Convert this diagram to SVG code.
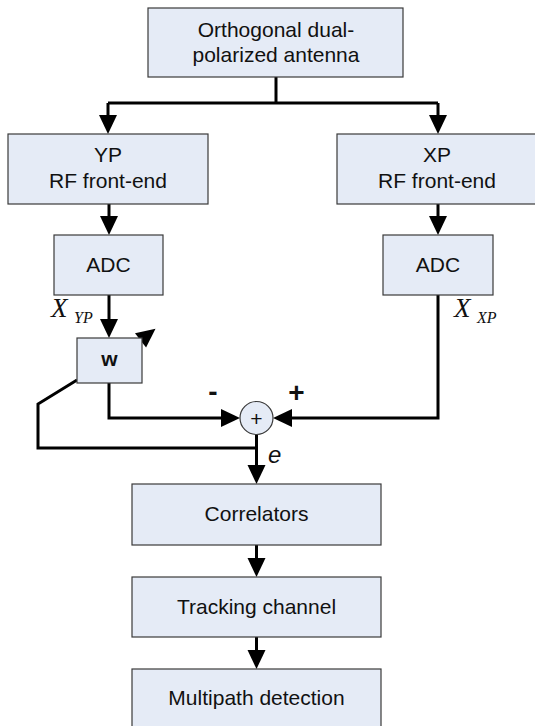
<svg xmlns="http://www.w3.org/2000/svg" width="535" height="726" viewBox="0 0 535 726">
<style>
.box{fill:#e5ebf6;stroke:#3a3a3a;stroke-width:1.2}
.t{font-family:"Liberation Sans",Arial,sans-serif;font-size:21px;fill:#111;text-anchor:middle}
.m{font-family:"Liberation Serif","Times New Roman",serif;font-style:italic;fill:#111}
.c{fill:none;stroke:#000;stroke-width:3;stroke-linejoin:miter}
.s{font-family:"Liberation Sans",Arial,sans-serif;font-weight:bold;font-size:28px;fill:#111;text-anchor:middle}
</style>
<defs>
<marker id="ah" markerUnits="userSpaceOnUse" markerWidth="20" markerHeight="20" refX="12" refY="9" orient="auto" viewBox="0 0 20 20" overflow="visible">
<path d="M0,0 L19,9 L0,18 Z" fill="#000"/>
</marker>
</defs>
<rect width="535" height="726" fill="#fff"/>

<g id="connectors">
<path class="c" d="M276,77 V103"/>
<path class="c" d="M108,103 H438"/>
<path class="c" d="M108,103 V127" marker-end="url(#ah)"/>
<path class="c" d="M438,103 V127" marker-end="url(#ah)"/>
<path class="c" d="M109,204 V228" marker-end="url(#ah)"/>
<path class="c" d="M438,204 V228" marker-end="url(#ah)"/>
<path class="c" d="M109,295 V331" marker-end="url(#ah)"/>
<path class="c" d="M109,383 V418 H233" marker-end="url(#ah)"/>
<path class="c" d="M438,295 V418 H280" marker-end="url(#ah)"/>
<path class="c" d="M256.5,434.5 V477" marker-end="url(#ah)"/>
<path class="c" d="M256.5,448 H38 V404 L77,380"/>
<path class="c" d="M141,340 L150,333" marker-end="url(#ah)"/>
<path class="c" d="M256.5,545 V570" marker-end="url(#ah)"/>
<path class="c" d="M256.5,637 V662" marker-end="url(#ah)"/>
</g>

<g id="antenna">
<rect class="box" x="148" y="8" width="255" height="69"/>
<text class="t" x="276" y="37">Orthogonal dual-</text>
<text class="t" x="276" y="62">polarized antenna</text>
</g>

<g id="yp-rf">
<rect class="box" x="8" y="134" width="200" height="70"/>
<text class="t" x="108" y="162">YP</text>
<text class="t" x="108" y="188">RF front-end</text>
</g>

<g id="xp-rf">
<rect class="box" x="337" y="134" width="200" height="70"/>
<text class="t" x="437" y="162">XP</text>
<text class="t" x="437" y="188">RF front-end</text>
</g>

<g id="adc-yp">
<rect class="box" x="54" y="235" width="109" height="60"/>
<text class="t" x="108.5" y="272">ADC</text>
</g>

<g id="adc-xp">
<rect class="box" x="383" y="235" width="110" height="60"/>
<text class="t" x="438" y="272">ADC</text>
</g>

<g id="label-xyp">
<text class="m" x="51" y="317" font-size="27">X</text>
<text class="m" x="74" y="323" font-size="16">YP</text>
</g>

<g id="label-xxp">
<text class="m" x="454" y="317" font-size="27">X</text>
<text class="m" x="477" y="323" font-size="16">XP</text>
</g>

<g id="w">
<rect class="box" x="77" y="338" width="65" height="45"/>
<text class="t" x="109.5" y="366" font-weight="bold" font-size="19">w</text>
</g>

<g id="summer">
<circle class="box" cx="256.5" cy="418" r="16.5"/>
<text class="t" x="256.5" y="426" font-size="23">+</text>
</g>

<g id="signs">
<text class="s" x="213" y="401">-</text>
<text class="s" x="296.5" y="402">+</text>
<text x="268" y="463" font-family="'Liberation Sans',Arial,sans-serif" font-style="italic" font-size="24" fill="#111">e</text>
</g>

<g id="correlators">
<rect class="box" x="132" y="484" width="249" height="61"/>
<text class="t" x="256.5" y="521">Correlators</text>
</g>

<g id="tracking">
<rect class="box" x="132" y="577" width="249" height="60"/>
<text class="t" x="256.5" y="614">Tracking channel</text>
</g>

<g id="multipath">
<rect class="box" x="132" y="669" width="249" height="62"/>
<text class="t" x="256.5" y="705">Multipath detection</text>
</g>
</svg>
